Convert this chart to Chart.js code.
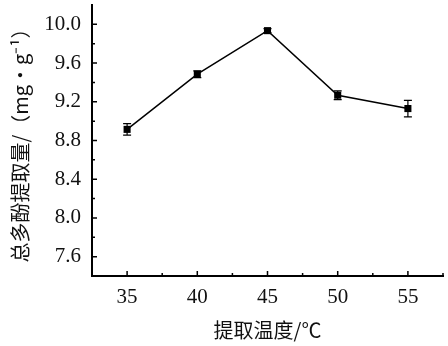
<!DOCTYPE html>
<html>
<head>
<meta charset="utf-8">
<script src="https://cdn.jsdelivr.net/npm/chart.js@4/dist/chart.umd.min.js"></script>
<style>
  html, body { margin: 0; padding: 0; background: #fff; }
  #wrap { width: 448px; height: 346px; }
</style>
</head>
<body>
<div id="wrap"><canvas id="chart"></canvas></div>
<script>
// extraction temperature (°C) vs total polyphenol yield
const temps = [35, 40, 45, 50, 55];
const yieldVals = [8.915, 9.485, 9.935, 9.268, 9.13];
const yieldErr = [0.06, 0.035, 0.02, 0.045, 0.085];

const xTicks = [35, 40, 45, 50, 55];
const xMinor = [32.5, 37.5, 42.5, 47.5, 52.5, 57.5];
const yTicks = [7.6, 8.0, 8.4, 8.8, 9.2, 9.6, 10.0];
const yMinor = [7.8, 8.2, 8.6, 9.0, 9.4, 9.8];

const serif = "'Liberation Serif', 'DejaVu Serif', serif";
const cjk = "'Noto Sans CJK SC', 'Liberation Serif', serif";

// error bars, drawn under the markers
const errorBars = {
    id: 'errorBars',
    beforeDatasetsDraw: (chart) => {
        const { ctx, scales: { x, y } } = chart;
        ctx.save();
        ctx.strokeStyle = '#000';
        ctx.lineWidth = 1.2;
        temps.forEach((t, i) => {
            const px = x.getPixelForValue(t);
            const top = y.getPixelForValue(yieldVals[i] + yieldErr[i]);
            const bot = y.getPixelForValue(yieldVals[i] - yieldErr[i]);
            ctx.beginPath();
            ctx.moveTo(px, top); ctx.lineTo(px, bot);
            ctx.moveTo(px - 4, top); ctx.lineTo(px + 4, top);
            ctx.moveTo(px - 4, bot); ctx.lineTo(px + 4, bot);
            ctx.stroke();
        });
        ctx.restore();
    }
};

// inward tick marks (major + minor)
const inTicks = {
    id: 'inTicks',
    afterDraw: (chart) => {
        const { ctx, chartArea: a, scales: { x, y } } = chart;
        ctx.save();
        ctx.strokeStyle = '#000';
        ctx.lineWidth = 1.5;
        ctx.beginPath();
        xTicks.forEach(v => { const p = x.getPixelForValue(v); ctx.moveTo(p, a.bottom); ctx.lineTo(p, a.bottom - 5); });
        xMinor.forEach(v => { const p = x.getPixelForValue(v); ctx.moveTo(p, a.bottom); ctx.lineTo(p, a.bottom - 3); });
        yTicks.forEach(v => { const p = y.getPixelForValue(v); ctx.moveTo(a.left, p); ctx.lineTo(a.left + 5, p); });
        yMinor.forEach(v => { const p = y.getPixelForValue(v); ctx.moveTo(a.left, p); ctx.lineTo(a.left + 3, p); });
        ctx.stroke();
        ctx.restore();
    }
};

new Chart(document.getElementById('chart'), {
    type: 'line',
    data: {
        datasets: [{
            data: temps.map((t, i) => ({ x: t, y: yieldVals[i] })),
            borderColor: '#000',
            borderWidth: 1.5,
            pointStyle: 'rect',
            pointRadius: 5,
            pointBackgroundColor: '#000',
            pointBorderColor: '#000',
            pointBorderWidth: 0,
            tension: 0,
        }]
    },
    options: {
        responsive: true,
        maintainAspectRatio: false,
        animation: false,
        layout: { padding: { top: -5, right: 1, left: 0, bottom: 0 } },
        plugins: { legend: { display: false }, tooltip: { enabled: false } },
        scales: {
            x: {
                type: 'linear',
                min: 32.5,
                max: 57.5,
                afterBuildTicks: s => { s.ticks = xTicks.map(v => ({ value: v })); },
                afterFit: s => { s.height = 70; s.paddingLeft = 0; s.paddingRight = 0; },
                grid: { drawOnChartArea: false, drawTicks: false },
                border: { color: '#000', width: 2 },
                ticks: { color: '#111', font: { family: serif, size: 21 }, padding: 9, maxRotation: 0 },
                title: { display: true, text: '提取温度/℃', color: '#111', font: { family: cjk, size: 20, lineHeight: 1.2 }, padding: { top: 0, bottom: 4 } }
            },
            y: {
                min: 7.4,
                max: 10.2,
                afterBuildTicks: s => { s.ticks = yTicks.map(v => ({ value: v })); },
                afterFit: s => { s.width = 92; s.paddingTop = 0; s.paddingBottom = 0; },
                grid: { drawOnChartArea: false, drawTicks: false },
                border: { color: '#000', width: 2 },
                ticks: { color: '#111', font: { family: serif, size: 21 }, padding: 11, callback: v => v.toFixed(1) },
                title: { display: true, text: '总多酚提取量/（mg•g⁻¹）', color: '#111', font: { family: cjk, size: 20, lineHeight: 1.2 }, padding: { top: 8, bottom: 0 } }
            }
        }
    },
    plugins: [errorBars, inTicks]
});
</script>
</body>
</html>
